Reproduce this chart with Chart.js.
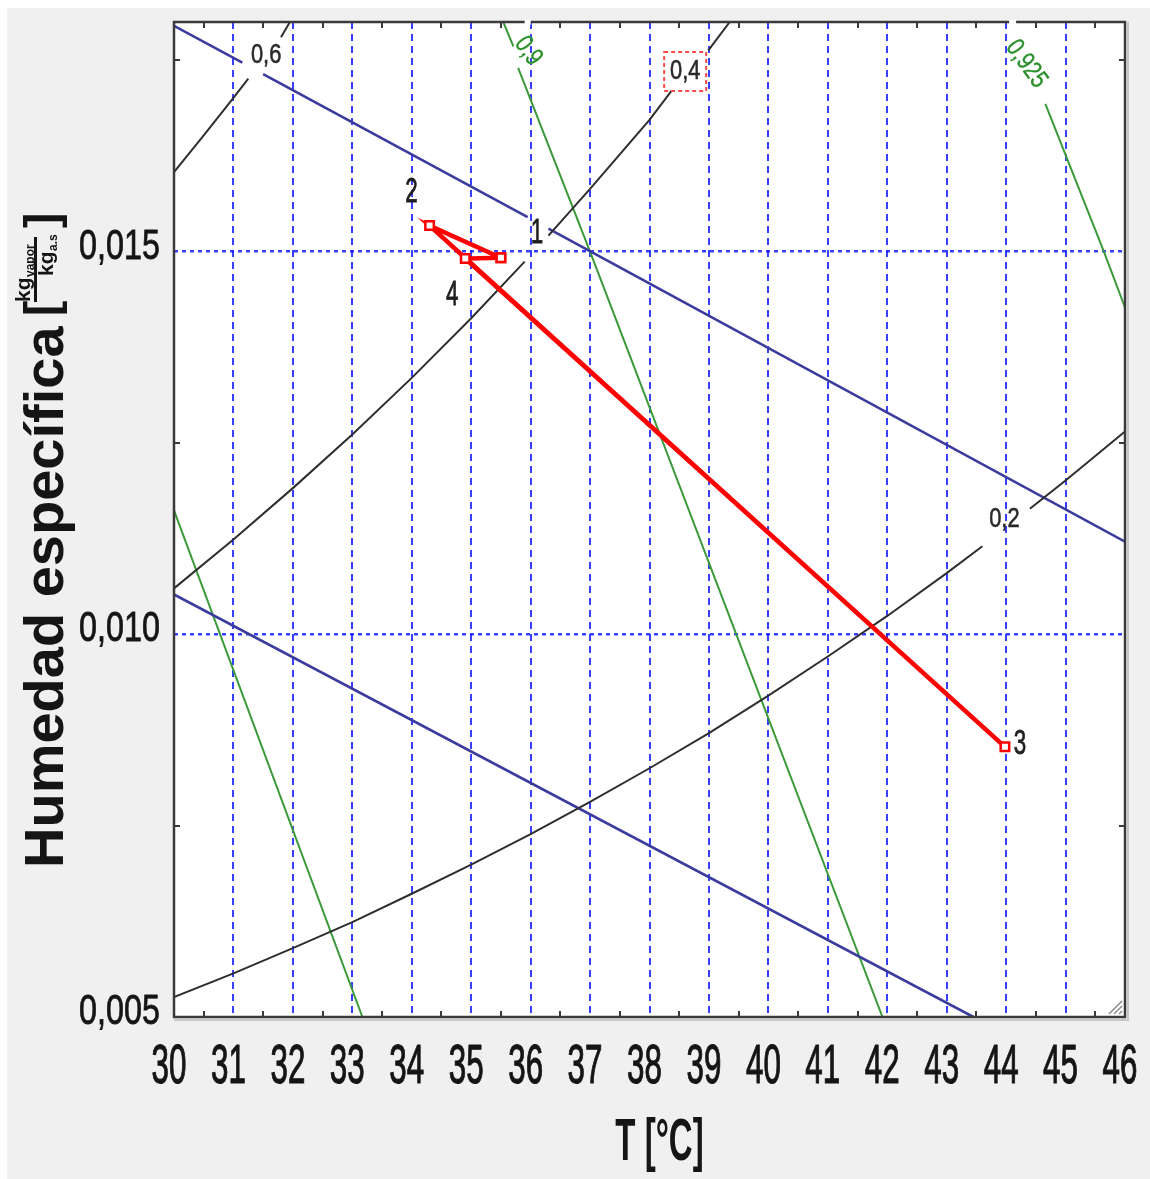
<!DOCTYPE html>
<html>
<head>
<meta charset="utf-8">
<script src="https://cdn.jsdelivr.net/npm/chart.js@4.4.1/dist/chart.umd.min.js"></script>
<style>
  html, body { margin: 0; padding: 0; background: #ffffff; }
  #wrap { width: 1150px; height: 1179px; }
</style>
</head>
<body>
<div id="wrap"><canvas id="psyChart" width="1150" height="1179"></canvas></div>
<script>
// ========================================
// Datos leídos del diagrama
// ========================================

// ejes
const xTickValues = [30, 31, 32, 33, 34, 35, 36, 37, 38, 39, 40, 41, 42, 43, 44, 45, 46];
const xTickLabels = ['30', '31', '32', '33', '34', '35', '36', '37', '38', '39', '40', '41', '42', '43', '44', '45', '46'];
const yTickValues = [0.005, 0.010, 0.015];
const yTickLabels = ['0,005', '0,010', '0,015'];
const minorTickT = [30.5, 31.5, 32.5, 33.5, 34.5, 35.5, 36.5, 37.5, 38.5, 39.5, 40.5, 41.5, 42.5, 43.5, 44.5, 45.5];
const minorTickW = [0.0075, 0.0125, 0.0175];

// humedad relativa 0,2 (null = hueco de la etiqueta)
const rh20T = [30, 31, 32, 33, 34, 35, 36, 37, 38, 39, 40, 41, 42, 43, 43.6, 44, 44.4, 45, 46];
const rh20W = [0.00526, 0.00557, 0.00590, 0.00624, 0.00661, 0.00699, 0.00739, 0.00781, 0.00825, 0.00871,
               0.00920, 0.00971, 0.01024, 0.01080, 0.01115, null, 0.01164, 0.01201, 0.01265];
// humedad relativa 0,4
const rh40T = [30, 31, 32, 33, 34, 35, 35.9, 36.1, 36.3, 37, 38, 38.37, 38.7, 38.99, 39.35];
const rh40W = [0.01060, 0.01124, 0.01191, 0.01261, 0.01335, 0.01413, 0.01487, null, 0.01521, 0.01582,
               0.01672, 0.01710, null, 0.01763, 0.01800];
// humedad relativa 0,6
const rh60T = [30, 30.5, 31, 31.25, 31.5, 31.8, 31.95];
const rh60W = [0.01604, 0.01652, 0.01701, 0.01726, null, 0.01780, 0.01800];

// líneas azules (entalpía)
const hUpperT = [30, 31.15, 31.35, 31.5, 35.95, 36.1, 36.3, 46];
const hUpperW = [0.01795, 0.01747, null, 0.01732, 0.01545, null, 0.01530, 0.01121];
const hLowerT = [30, 43.45];
const hLowerW = [0.01052, 0.00500];

// líneas verdes (volumen específico)
const vA_T = [30, 33.17];
const vA_W = [0.01162, 0.00500];
const vB_T = [35.54, 35.71, 35.75, 35.79, 37.0, 41.92];
const vB_W = [0.01800, 0.01768, null, 0.01740, 0.01500, 0.00500];
const vC_T = [44.66, 45.64, 46.0];
const vC_W = [0.01693, 0.01501, 0.01427];

// estados del proceso
const stateNames = ['1', '2', '3', '4'];
const stateT = [35.5, 34.3, 43.98, 34.9];
const stateW = [0.01492, 0.01534, 0.00853, 0.01491];
const processOrder = [0, 1, 2, 3, 0];

// etiquetas de las curvas
const rhLabels = ['0,6', '0,4', '0,2'];
const rhLabelT = [31.55, 38.60, 43.97];
const rhLabelW = [0.01757, 0.01736, 0.01150];
const volLabels = ['0,9', '0,925'];
const volLabelT = [35.96, 44.34];
const volLabelW = [0.01762, 0.01745];

// ========================================
// Estilos
// ========================================
const COLORS = {
  grid: 'rgba(20, 30, 255, 0.85)',
  enthalpy: '#3b3b9e',
  rh: '#2e2e2e',
  vol: '#3a9a3a',
  process: '#ff0000',
  frame: '#3a3a3a',
  text: '#151515',
  panel: '#f0f0f0'
};
const FONT = '"Liberation Sans", Arial, sans-serif';

function pts(ts, ws) {
  return ts.map((t, i) => ({ x: t, y: ws[i] }));
}

function curve(ts, ws, color, width) {
  return {
    data: pts(ts, ws),
    showLine: true,
    borderColor: color,
    borderWidth: width,
    pointRadius: 0,
    tension: 0,
    spanGaps: false
  };
}

// texto estrecho (el original está comprimido en horizontal)
function drawText(ctx, str, x, y, font, sx, align, color, angle, baseline, heavy) {
  ctx.save();
  ctx.translate(x, y);
  if (angle) ctx.rotate(angle);
  ctx.scale(sx, 1);
  ctx.font = font;
  ctx.fillStyle = color;
  ctx.textAlign = align;
  ctx.textBaseline = baseline || 'alphabetic';
  ctx.fillText(str, 0, 0);
  if (heavy) {
    ctx.strokeStyle = color;
    ctx.lineWidth = heavy;
    ctx.strokeText(str, 0, 0);
  }
  ctx.restore();
}

const near = (a, b) => Math.abs(a - b) < 1e-7;

// ========================================
// Plugin: fondo, marco, rótulos
// ========================================
const decorPlugin = {
  id: 'decor',
  beforeDraw(chart) {
    const ctx = chart.ctx;
    const a = chart.chartArea;
    ctx.save();
    ctx.fillStyle = '#ffffff';
    ctx.fillRect(0, 0, chart.width, chart.height);
    ctx.fillStyle = COLORS.panel;
    ctx.fillRect(7, 8, chart.width - 7, chart.height - 8);
    ctx.fillStyle = '#ffffff';
    ctx.fillRect(a.left, a.top, a.right - a.left, a.bottom - a.top);
    ctx.restore();
  },
  afterDraw(chart) {
    const ctx = chart.ctx;
    const a = chart.chartArea;
    const xs = chart.scales.x;
    const ys = chart.scales.y;

    // etiquetas de humedad relativa
    rhLabels.forEach((lbl, i) => {
      const px = xs.getPixelForValue(rhLabelT[i]);
      const py = ys.getPixelForValue(rhLabelW[i]);
      drawText(ctx, lbl, px, py, '28px ' + FONT, 0.78, 'center', '#2a2a2a', 0, 'middle', 0.6);
      if (lbl === '0,4') {
        ctx.save();
        ctx.strokeStyle = '#ff4a4a';
        ctx.lineWidth = 2;
        ctx.setLineDash([4, 3]);
        ctx.strokeRect(px - 21, py - 19, 42, 39);
        ctx.restore();
      }
    });

    // etiquetas de volumen específico (giradas)
    volLabels.forEach((lbl, i) => {
      const px = xs.getPixelForValue(volLabelT[i]);
      const py = ys.getPixelForValue(volLabelW[i]);
      drawText(ctx, lbl, px, py, '26px ' + FONT, 0.8, 'center', '#2a8f2a', 0.95, 'middle', 0.4);
    });

    // puntos del proceso
    const offs = [[36, -24], [-18, -33], [15, -2], [-13, 37]];
    stateNames.forEach((n, i) => {
      const px = xs.getPixelForValue(stateT[i]) + offs[i][0];
      const py = ys.getPixelForValue(stateW[i]) + offs[i][1];
      drawText(ctx, n, px, py, '35px ' + FONT, 0.64, 'center', '#1e1e1e', 0, 'middle', 0.8);
    });

    // marco
    ctx.save();
    ctx.strokeStyle = COLORS.frame;
    ctx.lineWidth = 2.5;
    ctx.strokeRect(a.left, a.top, a.right - a.left, a.bottom - a.top);
    ctx.strokeStyle = '#c8c8c8';
    ctx.lineWidth = 2;
    ctx.beginPath();
    ctx.moveTo(a.right + 3, a.top);
    ctx.lineTo(a.right + 3, a.bottom + 3);
    ctx.lineTo(a.left, a.bottom + 3);
    ctx.stroke();

    // huecos blancos del marco bajo las etiquetas verdes
    ctx.fillStyle = '#ffffff';
    ctx.fillRect(xs.getPixelForValue(35.9), a.top - 2, 6, 5);
    ctx.fillRect(xs.getPixelForValue(44.05), a.top - 2, 7, 5);

    // marcas menores
    ctx.strokeStyle = COLORS.frame;
    ctx.lineWidth = 2;
    ctx.beginPath();
    minorTickT.forEach(t => {
      const px = Math.round(xs.getPixelForValue(t));
      ctx.moveTo(px, a.bottom); ctx.lineTo(px, a.bottom - 6);
      ctx.moveTo(px, a.top); ctx.lineTo(px, a.top + 6);
    });
    minorTickW.forEach(w => {
      const py = Math.round(ys.getPixelForValue(w));
      ctx.moveTo(a.left, py); ctx.lineTo(a.left + 6, py);
      ctx.moveTo(a.right, py); ctx.lineTo(a.right - 6, py);
    });
    ctx.stroke();

    // agarradera de la esquina
    ctx.strokeStyle = '#8a8a8a';
    ctx.lineWidth = 1.5;
    ctx.beginPath();
    [0, 5, 10].forEach(d => {
      ctx.moveTo(a.right - 16 + d, a.bottom - 3);
      ctx.lineTo(a.right - 3, a.bottom - 16 + d);
    });
    ctx.stroke();
    ctx.restore();

    // rótulos del eje x
    xTickValues.forEach((v, i) => {
      const px = xs.getPixelForValue(v) - 5;
      drawText(ctx, xTickLabels[i], px, a.bottom + 66, '56px ' + FONT, 0.56, 'center', COLORS.text, 0, null, 1.2);
    });
    // rótulos del eje y
    yTickValues.forEach((v, i) => {
      const py = ys.getPixelForValue(v) + 7;
      drawText(ctx, yTickLabels[i], a.left - 14, py, '42px ' + FONT, 0.77, 'right', COLORS.text, 0, null, 0.8);
    });

    // título del eje x
    drawText(ctx, 'T [°C]', (a.left + a.right) / 2 + 10, a.bottom + 143, 'bold 60px ' + FONT, 0.55, 'center', COLORS.text);

    // título del eje y (girado) con unidades
    ctx.save();
    ctx.translate(63, 868);
    ctx.rotate(-Math.PI / 2);
    ctx.fillStyle = COLORS.text;
    ctx.textBaseline = 'alphabetic';
    ctx.textAlign = 'left';
    ctx.font = 'bold 56px ' + FONT;
    ctx.fillText('Humedad específica', 0, 0);
    ctx.font = 'bold 46px ' + FONT;
    ctx.fillText('[', 552, -6);
    ctx.fillText(']', 640, -6);
    ctx.font = 'bold 21px ' + FONT;
    ctx.fillText('kg', 566, -33);
    ctx.fillText('kg', 592, -10);
    ctx.font = 'bold 12px ' + FONT;
    ctx.fillText('vapor', 591, -29);
    ctx.fillText('a.s', 617, -6);
    ctx.fillRect(566, -29, 65, 3);
    ctx.restore();
  }
};

// ========================================
// Gráfico
// ========================================
const processData = processOrder.map(i => ({ x: stateT[i], y: stateW[i] }));

const chart = new Chart(document.getElementById('psyChart'), {
  type: 'scatter',
  data: {
    datasets: [
      {
        data: processData,
        showLine: true,
        borderColor: COLORS.process,
        borderWidth: 4.5,
        tension: 0,
        pointStyle: 'rect',
        pointRadius: 6,
        pointBackgroundColor: '#ffffff',
        pointBorderColor: COLORS.process,
        pointBorderWidth: 2.5
      },
      curve(rh20T, rh20W, COLORS.rh, 2),
      curve(rh40T, rh40W, COLORS.rh, 2),
      curve(rh60T, rh60W, COLORS.rh, 2),
      curve(hUpperT, hUpperW, COLORS.enthalpy, 2.6),
      curve(hLowerT, hLowerW, COLORS.enthalpy, 2.6),
      curve(vA_T, vA_W, COLORS.vol, 2),
      curve(vB_T, vB_W, COLORS.vol, 2),
      curve(vC_T, vC_W, COLORS.vol, 2)
    ]
  },
  options: {
    responsive: false,
    animation: false,
    devicePixelRatio: 1,
    layout: { padding: { left: 174, top: 22, right: 25, bottom: 162 } },
    plugins: { legend: { display: false }, tooltip: { enabled: false } },
    scales: {
      x: {
        type: 'linear',
        min: 30,
        max: 46,
        ticks: { display: false, stepSize: 1 },
        border: { display: false, dash: [7, 5] },
        grid: {
          drawTicks: false,
          lineWidth: 2,
          color: c => (c.tick && c.tick.value > 30.5 && c.tick.value < 45.5) ? COLORS.grid : 'rgba(0,0,0,0)'
        }
      },
      y: {
        type: 'linear',
        min: 0.005,
        max: 0.018,
        ticks: { display: false, stepSize: 0.005 },
        border: { display: false, dash: [4, 4] },
        grid: {
          drawTicks: false,
          lineWidth: 2.5,
          color: c => (c.tick && (near(c.tick.value, 0.010) || near(c.tick.value, 0.015))) ? COLORS.grid : 'rgba(0,0,0,0)'
        }
      }
    }
  },
  plugins: [decorPlugin]
});
</script>
</body>
</html>
